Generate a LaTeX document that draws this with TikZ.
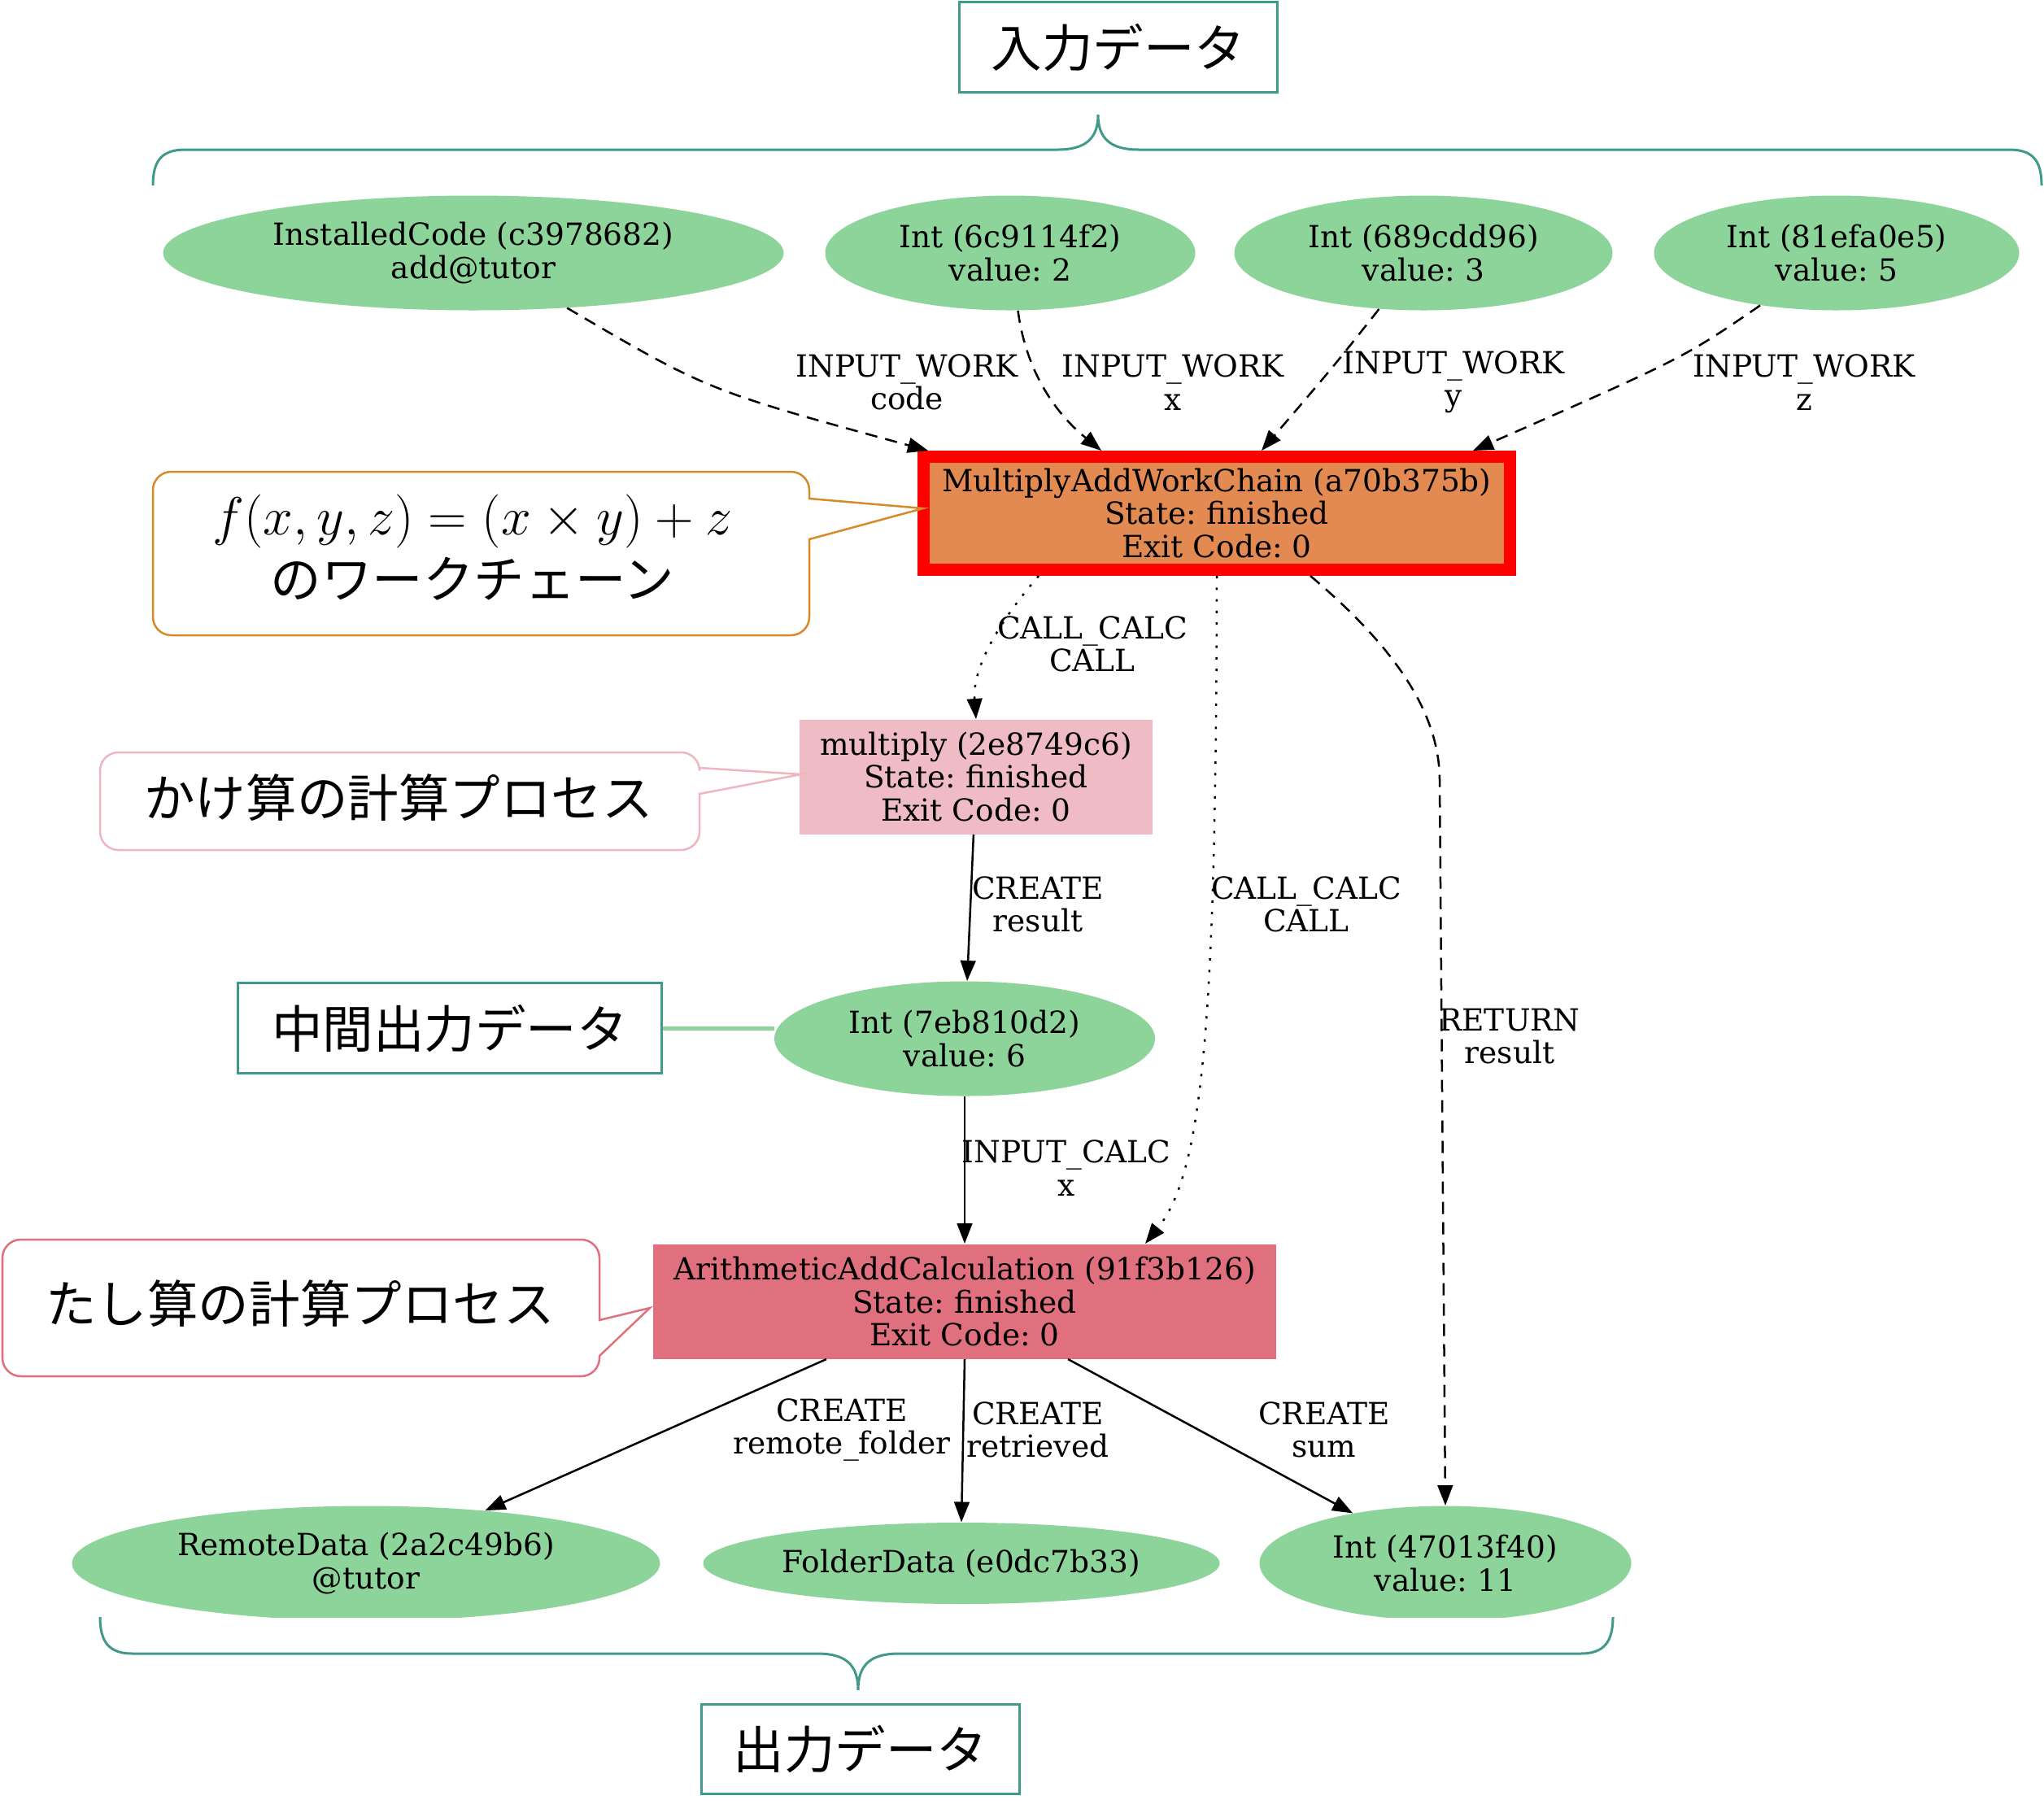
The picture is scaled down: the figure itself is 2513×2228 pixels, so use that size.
\documentclass[tikz,border=0pt]{standalone}
\usepackage[no-math]{fontspec}
\usepackage{graphicx}
\setmainfont{DejaVu Serif}
\newfontfamily\jpfont{Noto Sans CJK JP}
\usetikzlibrary{shapes.geometric,arrows.meta,calc}
\definecolor{ngreen}{RGB}{141,212,154}
\definecolor{mawcfill}{RGB}{227,138,82}
\definecolor{mulfill}{RGB}{239,187,196}
\definecolor{aacfill}{RGB}{224,112,126}
\definecolor{tealc}{RGB}{64,154,137}
\definecolor{corange}{RGB}{217,138,40}
\definecolor{cpink}{RGB}{239,182,192}
\definecolor{cred}{RGB}{224,112,126}
\frenchspacing
\begin{document}
\begin{tikzpicture}[x=0.4pt,y=-0.4pt,
  gv/.style={font=\fontsize{15pt}{16.1pt}\selectfont, align=center},
  ell/.style={gv, ellipse, fill=ngreen, inner sep=0pt, minimum height=56.4pt},
  proc/.style={gv, rectangle, inner sep=0pt, minimum height=56.4pt},
  jpbox/.style={draw=tealc, line width=1.2pt, fill=white, font=\jpfont\fontsize{25pt}{30pt}\selectfont, minimum height=44.4pt, inner sep=0pt},
  jptext/.style={font=\jpfont\fontsize{25pt}{30pt}\selectfont, inner sep=0pt},
  lbl/.style={gv, inner sep=0pt},
  e/.style={line width=1pt, -{Triangle[length=10pt,width=7.5pt]}},
  dsh/.style={e, dash pattern=on 6pt off 4pt},
  dtt/.style={e, dash pattern=on 1.2pt off 4.5pt},
  brace/.style={draw=tealc, line width=1.2pt},
  callout/.style={line width=1pt, fill=white}
]
\useasboundingbox (0,0) rectangle (2513,2228);

% input data label and brace
\node[jpbox, minimum width=156.4pt] (inbox) at (1375,58) {入力データ};
\draw[brace] (188,228) .. controls (188,196) and (200,184) .. (228,184) -- (1300,184)
  .. controls (1335,184) and (1350,170) .. (1350,141)
  .. controls (1350,170) and (1365,184) .. (1400,184) -- (2470,184)
  .. controls (2498,184) and (2510,196) .. (2510,228);

% top inputs
\node[ell, minimum width=305.2pt] (ic) at (582,311) {InstalledCode (c3978682)\\add@tutor};
\node[ell, minimum width=182pt] (ia) at (1242,311) {Int (6c9114f2)\\value: 2};
\node[ell, minimum width=186pt] (ib) at (1750,311) {Int (689cdd96)\\value: 3};
\node[ell, minimum width=179.6pt] (izz) at (2258,311) {Int (81efa0e5)\\value: 5};

% workchain
\node[proc, draw=red, line width=6pt, fill=mawcfill, minimum width=288.4pt, minimum height=55.6pt] (mawc) at (1496,631)
  {MultiplyAddWorkChain (a70b375b)\\State: finished\\Exit Code: 0};

% multiply
\node[proc, fill=mulfill, minimum width=173.6pt] (mul) at (1200,955)
  {multiply (2e8749c6)\\State: finished\\Exit Code: 0};

% intermediate
\node[ell, minimum width=187.2pt] (i7) at (1186,1277) {Int (7eb810d2)\\value: 6};
\node[jpbox, minimum width=208.4pt] (mid) at (553,1264) {中間出力データ};
\draw[ngreen, line width=2pt] (mid.east) -- (mid.east -| i7.west);

% add calc
\node[proc, fill=aacfill, minimum width=306.4pt] (aac) at (1186,1600)
  {ArithmeticAddCalculation (91f3b126)\\State: finished\\Exit Code: 0};

% outputs
\node[ell, minimum width=289.2pt] (rd) at (450,1922) {RemoteData (2a2c49b6)\\@tutor};
\node[ell, minimum width=254pt, minimum height=40pt] (fd) at (1182,1922) {FolderData (e0dc7b33)};
\node[ell, minimum width=182.8pt] (io) at (1777,1922) {Int (47013f40)\\value: 11};
\fill[white] (0,1989) rectangle (2100,2020);
\draw[brace] (123,1988) .. controls (123,2020) and (135,2033) .. (163,2033) -- (1005,2033)
  .. controls (1040,2033) and (1055,2047) .. (1055,2078)
  .. controls (1055,2047) and (1070,2033) .. (1105,2033) -- (1943,2033)
  .. controls (1971,2033) and (1983,2020) .. (1983,1988);
\node[jpbox, minimum width=156.4pt, minimum height=44pt] (outbox) at (1058,2150) {出力データ};

% callouts
\draw[callout, draw=corange] [rounded corners=9pt] (188,580) -- (995,580) [sharp corners] -- (995,613) -- (1135,625) -- (995,663) [rounded corners=9pt] -- (995,781) -- (188,781) -- cycle;
\node[inner sep=0pt, font=\fontsize{24.88pt}{30pt}\selectfont] (fx) at (581,641) {\scalebox{1.06}{$f(x,y,z)=(x\times y)+z$}};
\node[jptext] (wc) at (581,712) {のワークチェーン};

\draw[callout, draw=cpink] [rounded corners=9pt] (123,925) -- (860,925) [sharp corners] -- (860,944) -- (985,952) -- (860,976) [rounded corners=9pt] -- (860,1045) -- (123,1045) -- cycle;
\node[jptext] (kk) at (490,981) {かけ算の計算プロセス};

\draw[callout, draw=cred] [rounded corners=9pt] (3,1524) -- (737,1524) [sharp corners] -- (737,1623) -- (799,1608) -- (737,1667) [rounded corners=9pt] -- (737,1692) -- (3,1692) -- cycle;
\node[jptext] (ts) at (369,1603) {たし算の計算プロセス};

% edges into workchain
\draw[dsh] (ic) .. controls (870,480) .. ($(mawc.north west)+(13,0)$);
\draw[dsh] (ia) .. controls (1262,460) and (1300,510) .. ($(mawc.north west)+(226,0)$);
\draw[dsh] (ib) .. controls (1640,450) .. ($(mawc.north west)+(423,0)$);
\draw[dsh] (izz) .. controls (2070,440) .. ($(mawc.north west)+(683,0)$);
\node[lbl] (l1) at (1115,470) {INPUT\_WORK\\code};
\node[lbl] (l2) at (1442,470) {INPUT\_WORK\\x};
\node[lbl] (l3) at (1787,470) {INPUT\_WORK\\y};
\node[lbl] (l4) at (2218,470) {INPUT\_WORK\\z};

% workchain outgoing
\draw[dtt] ($(mawc.south)+(-219,0)$) .. controls (1215,780) and (1196,830) .. (mul.north);
\node[lbl] (l5) at (1343,792) {CALL\_CALC\\CALL};
\draw[dtt] (mawc.south) .. controls (1495,1250) and (1480,1440) .. ($(aac.north)+(222,0)$);
\node[lbl] (l6) at (1606,1112) {CALL\_CALC\\CALL};
\draw[dsh] ($(mawc.south)+(115,0)$) .. controls (1720,800) and (1770,880) .. (1770,960) -- (io.north);
\node[lbl] (l7) at (1856,1274) {RETURN\\result};

% multiply / calc edges
\draw[e] (mul) -- (i7);
\node[lbl] (l8) at (1276,1112) {CREATE\\result};
\draw[e] (i7) -- (aac);
\node[lbl] (l9) at (1311,1436) {INPUT\_CALC\\x};
\draw[e] ($(aac.south)+(-170,0)$) -- (rd);
\node[lbl] (l10) at (1035,1758) {CREATE\\remote\_folder};
\draw[e] (aac.south) -- (fd.north);
\node[lbl] (l11) at (1276,1758) {CREATE\\retrieved};
\draw[e] ($(aac.south)+(127,0)$) -- (io);
\node[lbl] (l12) at (1628,1758) {CREATE\\sum};
\end{tikzpicture}
\end{document}
